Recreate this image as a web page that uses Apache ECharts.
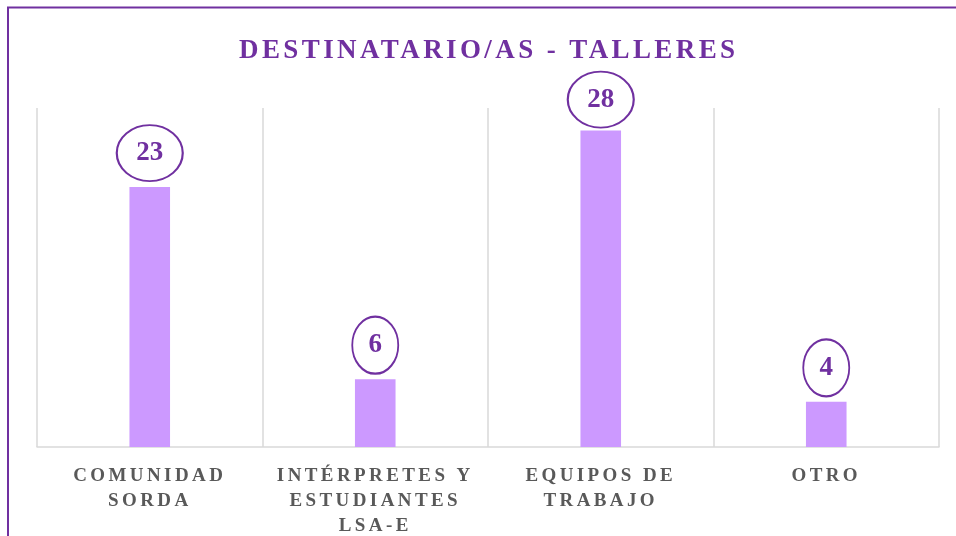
<!DOCTYPE html>
<html>
<head>
<meta charset="utf-8">
<script src="https://cdn.jsdelivr.net/npm/echarts@6/dist/echarts.min.js"></script>
<style>
  html, body { margin: 0; padding: 0; background: #fff; }
  #chart { width: 956px; height: 536px; }
</style>
</head>
<body>
<div id="chart"></div>
<script>
// ---- data ----
const categories = ['COMUNIDAD\nSORDA', 'INTÉRPRETES Y\nESTUDIANTES\nLSA-E', 'EQUIPOS DE\nTRABAJO', 'OTRO'];
const values = [23, 6, 28, 4];
const titleText = 'DESTINATARIO/AS - TALLERES';

// ---- letter spacing for spaced serif texts (marker: generic ", serif") ----
(function () {
  const proto = CanvasRenderingContext2D.prototype;
  const desc = Object.getOwnPropertyDescriptor(proto, 'font');
  if (!desc || !('letterSpacing' in proto)) return;
  Object.defineProperty(proto, 'font', {
    configurable: true,
    get: function () { return desc.get.call(this); },
    set: function (v) {
      desc.set.call(this, v);
      let ls = '0px';
      if (typeof v === 'string' && v.indexOf(', serif') >= 0) {
        const m = v.match(/(\d+(?:\.\d+)?)px/);
        const size = m ? parseFloat(m[1]) : 12;
        ls = size >= 25 ? '3.4px' : '3.4px';
      }
      this.letterSpacing = ls;
    }
  });
})();

const ellipsePath = 'path://M50,0 C77.6,0 100,22.4 100,50 C100,77.6 77.6,100 50,100 C22.4,100 0,77.6 0,50 C0,22.4 22.4,0 50,0 Z';
const maxVal = Math.max.apply(null, values);

const chart = echarts.init(document.getElementById('chart'), null, { renderer: 'canvas' });
chart.setOption({
  animation: false,
  backgroundColor: '#ffffff',
  title: {
    text: titleText,
    left: 234,
    top: 31,
    textStyle: {
      color: '#7030A0',
      fontFamily: "'Liberation Serif', serif",
      fontWeight: 'bold',
      fontSize: 27
    }
  },
  graphic: [{
    type: 'rect',
    shape: { x: 8, y: 7.5, width: 1200, height: 1200 },
    style: { fill: 'none', stroke: '#7030A0', lineWidth: 2 },
    silent: true,
    z: 100
  }],
  grid: { left: 37, right: 17, top: 108, bottom: 89, containLabel: false, outerBoundsMode: 'none' },
  xAxis: {
    type: 'category',
    data: categories,
    axisTick: { show: false },
    axisLine: { lineStyle: { color: '#D9D9D9', width: 1.5 } },
    splitLine: { show: true, lineStyle: { color: '#D9D9D9', width: 1.5 } },
    axisLabel: {
      interval: 0,
      margin: 17,
      color: '#595959',
      fontFamily: "'Liberation Serif', serif",
      fontWeight: 'bold',
      fontSize: 19,
      lineHeight: 25
    }
  },
  yAxis: {
    type: 'value',
    min: 0,
    max: 30,
    show: false,
    splitLine: { show: false }
  },
  series: [
    {
      type: 'bar',
      data: values,
      barWidth: '18%',
      itemStyle: { color: '#CC99FF' },
      z: 2
    },
    {
      type: 'scatter',
      data: values.map(function (v) {
        return { value: v, symbolOffset: [0, v === maxVal ? -31 : -34] };
      }),
      symbol: ellipsePath,
      symbolKeepAspect: false,
      symbolSize: function (v) { return v >= 10 ? [66, 56] : [46, 57]; },
      itemStyle: { color: '#ffffff', borderColor: '#7030A0', borderWidth: 2, opacity: 1 },
      label: {
        show: true,
        position: 'inside',
        color: '#7030A0',
        fontFamily: "'Liberation Serif'",
        fontWeight: 'bold',
        fontSize: 27,
        formatter: '{c}'
      },
      z: 5
    }
  ]
});
</script>
</body>
</html>
